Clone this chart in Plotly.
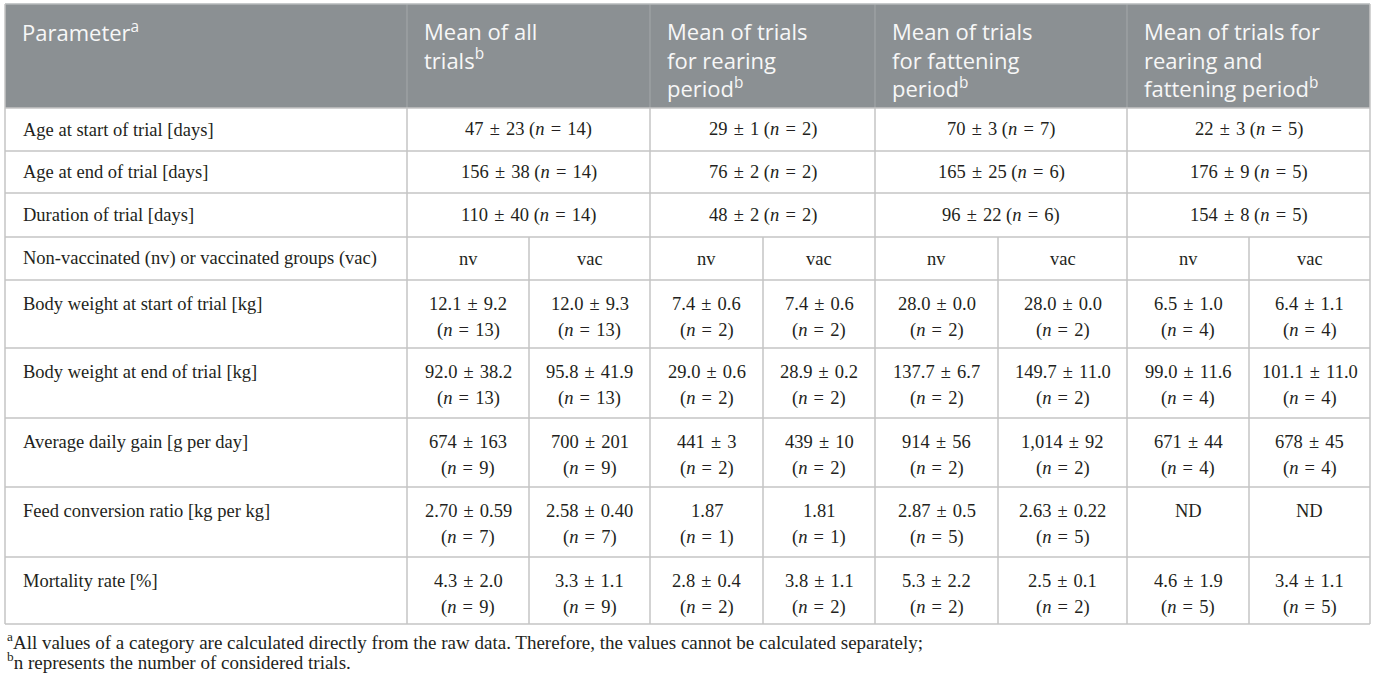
import plotly.graph_objects as go

# ---- table content ----
params = [
    "Age at start of trial [days]",
    "Age at end of trial [days]",
    "Duration of trial [days]",
    "Non-vaccinated (nv) or vaccinated groups (vac)",
    "Body weight at start of trial [kg]",
    "Body weight at end of trial [kg]",
    "Average daily gain [g per day]",
    "Feed conversion ratio [kg per kg]",
    "Mortality rate [%]",
]
header_param = ["Parameter<sup>a</sup>"]
header_groups = [
    ["Mean of all", "trials<sup>b</sup>"],
    ["Mean of trials", "for rearing", "period<sup>b</sup>"],
    ["Mean of trials", "for fattening", "period<sup>b</sup>"],
    ["Mean of trials for", "rearing and", "fattening period<sup>b</sup>"],
]

# rows where one value spans nv and vac
age_start = ["47 ± 23", "29 ± 1", "70 ± 3", "22 ± 3"]
age_start_n = [14, 2, 7, 5]
age_end = ["156 ± 38", "76 ± 2", "165 ± 25", "176 ± 9"]
age_end_n = [14, 2, 6, 5]
duration = ["110 ± 40", "48 ± 2", "96 ± 22", "154 ± 8"]
duration_n = [14, 2, 6, 5]

groups_sub = ["nv", "vac", "nv", "vac", "nv", "vac", "nv", "vac"]

bw_start = ["12.1 ± 9.2", "12.0 ± 9.3", "7.4 ± 0.6", "7.4 ± 0.6",
            "28.0 ± 0.0", "28.0 ± 0.0", "6.5 ± 1.0", "6.4 ± 1.1"]
bw_start_n = [13, 13, 2, 2, 2, 2, 4, 4]
bw_end = ["92.0 ± 38.2", "95.8 ± 41.9", "29.0 ± 0.6", "28.9 ± 0.2",
          "137.7 ± 6.7", "149.7 ± 11.0", "99.0 ± 11.6", "101.1 ± 11.0"]
bw_end_n = [13, 13, 2, 2, 2, 2, 4, 4]
adg = ["674 ± 163", "700 ± 201", "441 ± 3", "439 ± 10",
       "914 ± 56", "1,014 ± 92", "671 ± 44", "678 ± 45"]
adg_n = [9, 9, 2, 2, 2, 2, 4, 4]
fcr = ["2.70 ± 0.59", "2.58 ± 0.40", "1.87", "1.81",
       "2.87 ± 0.5", "2.63 ± 0.22", "ND", "ND"]
fcr_n = [7, 7, 1, 1, 5, 5, None, None]
mortality = ["4.3 ± 2.0", "3.3 ± 1.1", "2.8 ± 0.4", "3.8 ± 1.1",
             "5.3 ± 2.2", "2.5 ± 0.1", "4.6 ± 1.9", "3.4 ± 1.1"]
mortality_n = [9, 9, 2, 2, 2, 2, 5, 5]

footnotes = [
    "<sup>a</sup>All values of a category are calculated directly from the raw data. "
    "Therefore, the values cannot be calculated separately;",
    "<sup>b</sup>n represents the number of considered trials.",
]

# ---- layout geometry (pixels) ----
W, H = 1375, 683
col_edges = [5, 407, 529, 650, 763, 875, 998, 1127, 1249, 1370]
row_edges = [4, 108, 151, 193, 237, 280, 348, 418, 487, 557, 624]

HEADER_BG = "#8b9093"
GRID = "#c4c4c4"
TEXT = "#231f20"
SANS = "Open Sans"
SERIF = "Liberation Serif"
BODY_SIZE = 18.5
GAP = "\u00a0\u200a"  # slightly wider, math-like spacing around ± and =


def mathify(s):
    return s.replace(" ± ", GAP + "±" + GAP)


def n_txt(n):
    return "(<i>n</i>" + GAP + "=" + GAP + "%d)" % n


fig = go.Figure()
shapes = []
annotations = []

# header background
shapes.append(dict(type="rect", x0=col_edges[0], x1=col_edges[-1], y0=row_edges[0], y1=row_edges[1],
                   fillcolor=HEADER_BG, line=dict(width=0), layer="below"))

# header texts
group_starts = [col_edges[0], col_edges[1], col_edges[3], col_edges[5], col_edges[7]]
header_all = [header_param] + header_groups
for gx, lines in zip(group_starts, header_all):
    annotations.append(dict(x=gx + 15, y=13.7, text="<br>".join(lines), showarrow=False,
                            xanchor="left", yanchor="top", align="left",
                            font=dict(family=SANS, size=22, color="#f7f7f7")))

# header vertical separators
for gx in group_starts[1:]:
    shapes.append(dict(type="line", x0=gx, x1=gx, y0=row_edges[0], y1=row_edges[1],
                       line=dict(color="#a4a8aa", width=1)))

# body rows
spanned = [(age_start, age_start_n), (age_end, age_end_n), (duration, duration_n)]
split_rows = [(groups_sub, None), (bw_start, bw_start_n), (bw_end, bw_end_n),
              (adg, adg_n), (fcr, fcr_n), (mortality, mortality_n)]


def cell_lines(top, bottom, lines, x, anchor="center"):
    if bottom - top < 60:
        ys = [(top + bottom) / 2]
    else:
        ys = [top + 24 + 26 * i for i in range(len(lines))]
    for y, t in zip(ys, lines):
        annotations.append(dict(x=x, y=y, text=t, showarrow=False, xanchor=anchor,
                                yanchor="middle", font=dict(family=SERIF, size=BODY_SIZE, color=TEXT)))


for r, label in enumerate(params):
    top, bottom = row_edges[r + 1], row_edges[r + 2]
    cell_lines(top, bottom, [label], col_edges[0] + 16, anchor="left")
    if r < 3:
        vals, ns = spanned[r]
        for g in range(4):
            x0, x1 = col_edges[1 + 2 * g], col_edges[3 + 2 * g]
            cell_lines(top, bottom, [mathify(vals[g]) + " " + n_txt(ns[g])], (x0 + x1) / 2)
    else:
        vals, ns = split_rows[r - 3]
        for c in range(8):
            x0, x1 = col_edges[1 + c], col_edges[2 + c]
            lines = [mathify(vals[c])]
            if ns is not None and ns[c] is not None:
                lines.append(n_txt(ns[c]))
            cell_lines(top, bottom, lines, (x0 + x1) / 2)

# grid lines
for y in row_edges[1:]:
    shapes.append(dict(type="line", x0=col_edges[0], x1=col_edges[-1], y0=y, y1=y,
                       line=dict(color=GRID, width=1.5)))
shapes.append(dict(type="line", x0=col_edges[0], x1=col_edges[-1], y0=row_edges[0], y1=row_edges[0],
                   line=dict(color="#b4b8ba", width=1.5)))
for i, x in enumerate(col_edges):
    if i in (0, 9):
        y0 = row_edges[0]
    elif i in (1, 3, 5, 7):
        y0 = row_edges[1]
    else:
        y0 = row_edges[4]
    shapes.append(dict(type="line", x0=x, x1=x, y0=y0, y1=row_edges[-1],
                       line=dict(color=GRID, width=1.5)))

# footnotes
for i, t in enumerate(footnotes):
    annotations.append(dict(x=col_edges[0], y=641 + 20 * i, text=t, showarrow=False,
                            xanchor="left", yanchor="middle",
                            font=dict(family=SERIF, size=19, color=TEXT)))

fig.update_layout(
    width=W, height=H,
    margin=dict(l=0, r=0, t=0, b=0),
    paper_bgcolor="white", plot_bgcolor="white",
    xaxis=dict(range=[0, W], visible=False, fixedrange=True),
    yaxis=dict(range=[H, 0], visible=False, fixedrange=True),
    shapes=shapes, annotations=annotations,
    showlegend=False,
)

fig.write_html("out.html", config={"displayModeBar": False},
               post_script="document.body.style.margin='0';")
